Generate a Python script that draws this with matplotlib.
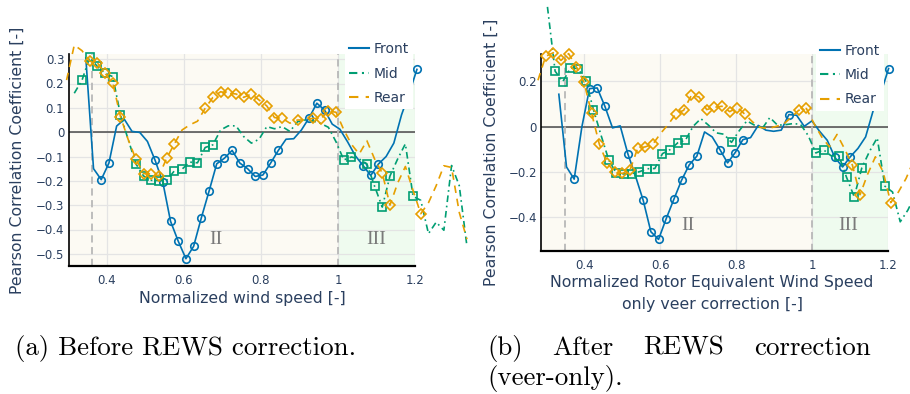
import numpy as np
import matplotlib
matplotlib.use("Agg")
import matplotlib.pyplot as plt
from matplotlib.lines import Line2D
from matplotlib.ticker import FuncFormatter

TEXT = "#2a3f5f"
W, H = 910, 394

# --- correlation vs normalised wind speed, before REWS correction -----------
front_a_start, mid_a_start, rear_a_start, step_a = 0.345, 0.315, 0.295, 0.02
front_a = [0.305, -0.150, -0.195, -0.127, 0.025, 0.053, 0.003, -0.001, -0.038,
           -0.116, -0.206, -0.366, -0.448, -0.520, -0.469, -0.352, -0.243,
           -0.130, -0.107, -0.075, -0.127, -0.150, -0.182, -0.176, -0.127,
           -0.075, -0.029, -0.027, 0.009, 0.059, 0.119, 0.091, 0.033, 0.012,
           -0.040, -0.097, -0.137, -0.178, -0.131, -0.100, -0.045, 0.071,
           0.160, 0.258]
front_a_marks = [2, 3] + list(range(9, 26)) + [29, 30, 31, 36, 37, 38, 43]
mid_a = [0.160, 0.213, 0.307, 0.270, 0.242, 0.228, 0.071, -0.030, -0.130,
         -0.180, -0.198, -0.199, -0.198, -0.159, -0.152, -0.123, -0.126,
         -0.063, -0.052, 0.009, 0.026, 0.026, -0.018, -0.045, -0.029, 0.023,
         0.014, 0.023, 0.003, 0.043, 0.050, 0.046, 0.036, 0.020, -0.040,
         -0.114, -0.102, -0.110, -0.130, -0.222, -0.308, -0.180, -0.110,
         -0.048, -0.264, -0.280, -0.417, -0.370, -0.403, -0.137, -0.220,
         -0.470]
mid_a_marks = list(range(1, 7)) + list(range(8, 19)) + [35, 36, 38, 39, 40, 41, 44]
rear_a = [0.214, 0.358, 0.335, 0.292, 0.285, 0.242, 0.201, 0.064, -0.030,
          -0.111, -0.170, -0.171, -0.179, -0.107, -0.048, 0.009, 0.030, 0.045,
          0.098, 0.143, 0.166, 0.160, 0.157, 0.143, 0.157, 0.132, 0.108,
          0.060, 0.057, 0.037, 0.050, 0.050, 0.057, 0.055, 0.086, 0.082,
          0.010, -0.050, -0.090, -0.035, -0.110, -0.168, -0.300, -0.209,
          -0.141, -0.240, -0.335, -0.290, -0.220, -0.138, -0.145, -0.330,
          -0.440]
rear_a_marks = [3, 4, 5, 6, 7] + list(range(9, 15)) + list(range(18, 29)) + \
    [30, 32, 33, 34, 35, 41, 42, 46]

# --- after REWS correction (veer only) --------------------------------------
front_b_start, mid_b_start, rear_b_start, step_b = 0.333, 0.303, 0.278, 0.0202
front_b = [0.143, -0.179, -0.233, -0.002, 0.168, 0.171, 0.090, -0.006, 0.003,
           -0.121, -0.220, -0.327, -0.466, -0.500, -0.408, -0.322, -0.238,
           -0.170, -0.131, -0.024, -0.046, -0.102, -0.161, -0.115, -0.058,
           -0.049, 0.005, -0.016, -0.021, -0.016, 0.053, 0.050, 0.001, 0.025,
           -0.021, -0.061, -0.137, -0.179, -0.134, -0.097, -0.046, 0.072,
           0.150, 0.257]
front_b_marks = [2, 4, 5, 6, 9] + list(range(11, 19)) + [21, 22, 23, 24, 30,
                                                       36, 37, 38, 43]
mid_b = [0.530, 0.245, 0.199, 0.259, 0.257, 0.202, 0.075, -0.040, -0.149,
         -0.208, -0.210, -0.209, -0.200, -0.187, -0.186, -0.120, -0.102,
         -0.072, -0.060, 0.001, 0.035, 0.006, -0.028, -0.034, -0.070, -0.019,
         0.025, 0.006, -0.009, 0.040, 0.006, 0.008, 0.013, 0.010, -0.040,
         -0.117, -0.103, -0.130, -0.129, -0.225, -0.311, -0.182, -0.110,
         -0.050, -0.264, -0.290, -0.422, -0.370, -0.300]
mid_b_marks = list(range(1, 7)) + list(range(8, 19)) + [24, 35, 36, 38, 39,
                                                      40, 41, 44]
rear_b = [0.205, 0.311, 0.327, 0.293, 0.323, 0.264, 0.197, 0.058, -0.078,
          -0.161, -0.201, -0.208, -0.193, -0.096, -0.090, -0.077, -0.030,
          0.010, 0.057, 0.072, 0.138, 0.131, 0.075, 0.085, 0.090, 0.066,
          0.084, 0.054, 0.020, -0.004, -0.009, 0.000, 0.010, 0.040, 0.072,
          0.080, 0.013, -0.046, -0.090, -0.035, -0.100, -0.171, -0.302,
          -0.210, -0.134, -0.200, -0.337, -0.290, -0.230, -0.150]
rear_b_marks = list(range(1, 16)) + list(range(18, 28)) + [34, 35, 41, 42, 46]

names = ["Front", "Mid", "Rear"]
colors = ["#0072B2", "#009E73", "#E69F00"]
styles = ["-", (0, (4, 2.2, 1, 2.2)), (0, (4.5, 3.5))]
markers = ["o", "s", "D"]


def bins(start, step, n):
    return np.round(start + step * np.arange(n), 4)


def tick_fmt(v, pos):
    if abs(v) < 1e-9:
        return "0"
    s = "%.1f" % v
    if s.endswith(".0"):
        s = s[:-2]
    return s.replace("-", "\u2212")


def px_axes(left, top, right, bottom):
    return fig.add_axes([left / W, 1 - bottom / H, (right - left) / W,
                         (bottom - top) / H])


def draw_panel(ax, curves, xlim, yticks, cut_in, region_y, leg_anchor):
    ax.set_xlim(*xlim)
    ax.set_ylim(-0.55, 0.32)
    ax.axvspan(xlim[0], 1.0, color="#fcfaf3", lw=0, zorder=0)
    ax.axvspan(1.0, xlim[1], color="#effbef", lw=0, zorder=0)
    ax.set_axisbelow(True)
    ax.grid(color="#e4e4e4", lw=0.9)
    ax.axhline(0, color="#4a4a4a", lw=1.1, zorder=1.5)
    for xv in (cut_in, 1.0):
        ax.axvline(xv, color="#b8b8b8", lw=1.3, ls=(0, (4, 2.5)), zorder=1.6)

    for (x, y, marks), c, ls, mk in zip(curves, colors, styles, markers):
        ax.plot(x, y, color=c, lw=1.2, ls=ls, marker=mk, markevery=marks,
                ms=5.4 if mk != "D" else 4.8, mew=1.2, mfc="none",
                clip_on=False, zorder=3)

    ax.set_xticks([0.4, 0.6, 0.8, 1.0, 1.2])
    ax.set_yticks(yticks)
    ax.xaxis.set_major_formatter(FuncFormatter(tick_fmt))
    ax.yaxis.set_major_formatter(FuncFormatter(tick_fmt))
    ax.tick_params(axis="both", length=0, labelsize=8.5, labelcolor=TEXT)
    ax.tick_params(axis="x", pad=6)
    ax.tick_params(axis="y", pad=3)
    for side in ("top", "right"):
        ax.spines[side].set_visible(False)
    ax.spines["left"].set_linewidth(1.2)
    ax.spines["bottom"].set_linewidth(1.6)

    for label, xv in region_y:
        ax.text(xv, -0.44, label, family="Liberation Serif", fontsize=14,
                color="#7a7a7a", ha="center", va="center")

    handles = [Line2D([], [], color=c, lw=1.5, ls=ls)
               for c, ls in zip(colors, styles)]
    leg = ax.legend(handles, names, loc="upper left", bbox_to_anchor=leg_anchor,
                    frameon=True, fancybox=False, framealpha=1,
                    facecolor="white", edgecolor="none", fontsize=10,
                    labelcolor=TEXT, handlelength=1.45, handletextpad=0.3,
                    labelspacing=0.75, borderpad=0.3, borderaxespad=0)
    leg.set_zorder(5)


fig = plt.figure(figsize=(W / 100, H / 100), dpi=100)

ax_a = px_axes(68.5, 54.3, 415, 266)
curves_a = [
    (bins(front_a_start, step_a, len(front_a)), front_a, front_a_marks),
    (bins(mid_a_start, step_a, len(mid_a)), mid_a, mid_a_marks),
    (bins(rear_a_start, step_a, len(rear_a)), rear_a, rear_a_marks),
]
draw_panel(ax_a, curves_a, (0.3, 1.2),
           [0.3, 0.2, 0.1, 0, -0.1, -0.2, -0.3, -0.4, -0.5], 0.36,
           [("II", 0.683), ("III", 1.1)], (0.798, 1.077))

ax_b = px_axes(541, 54.3, 888, 250.7)
curves_b = [
    (bins(front_b_start, step_b, len(front_b)), front_b, front_b_marks),
    (bins(mid_b_start, step_b, len(mid_b)), mid_b, mid_b_marks),
    (bins(rear_b_start, step_b, len(rear_b)), rear_b, rear_b_marks),
]
draw_panel(ax_b, curves_b, (0.286, 1.2), [0.2, 0, -0.2, -0.4], 0.349,
           [("II", 0.673), ("III", 1.096)], (0.792, 1.076))

# axis titles
lab = dict(color=TEXT, fontsize=11.3, ha="center", va="center")
fig.text(242.5 / W, 1 - 298 / H, "Normalized wind speed [-]", **lab)
fig.text(17 / W, 1 - 160 / H, "Pearson Correlation Coefficient [-]",
         rotation=90, **lab)
fig.text(712 / W, 1 - 283 / H, "Normalized Rotor Equivalent Wind Speed", **lab)
fig.text(712 / W, 1 - 305 / H, "only veer correction [-]", **lab)
fig.text(491 / W, 1 - 152 / H, "Pearson Correlation Coefficient [-]",
         rotation=90, **lab)

# sub-figure captions
cap = dict(family="cmr10", fontsize=19.4, color="black", va="center")
fig.text(15 / W, 1 - 348 / H, "(a) Before REWS correction.", ha="left", **cap)

words = ["(b)", "After", "REWS", "correction"]
left_px, right_px = 487, 871
renderer = fig.canvas.get_renderer()
word_txts = [fig.text(0, 1 - 348 / H, w, ha="left", **cap) for w in words]
widths = [t.get_window_extent(renderer).width for t in word_txts]
gap = (right_px - left_px - sum(widths)) / (len(words) - 1)
xpos = left_px
for t, w in zip(word_txts, widths):
    t.set_x(xpos / W)
    xpos += w + gap
fig.text(left_px / W, 1 - 378 / H, "(veer-only).", ha="left", **cap)

fig.savefig("out.png", dpi=100)
